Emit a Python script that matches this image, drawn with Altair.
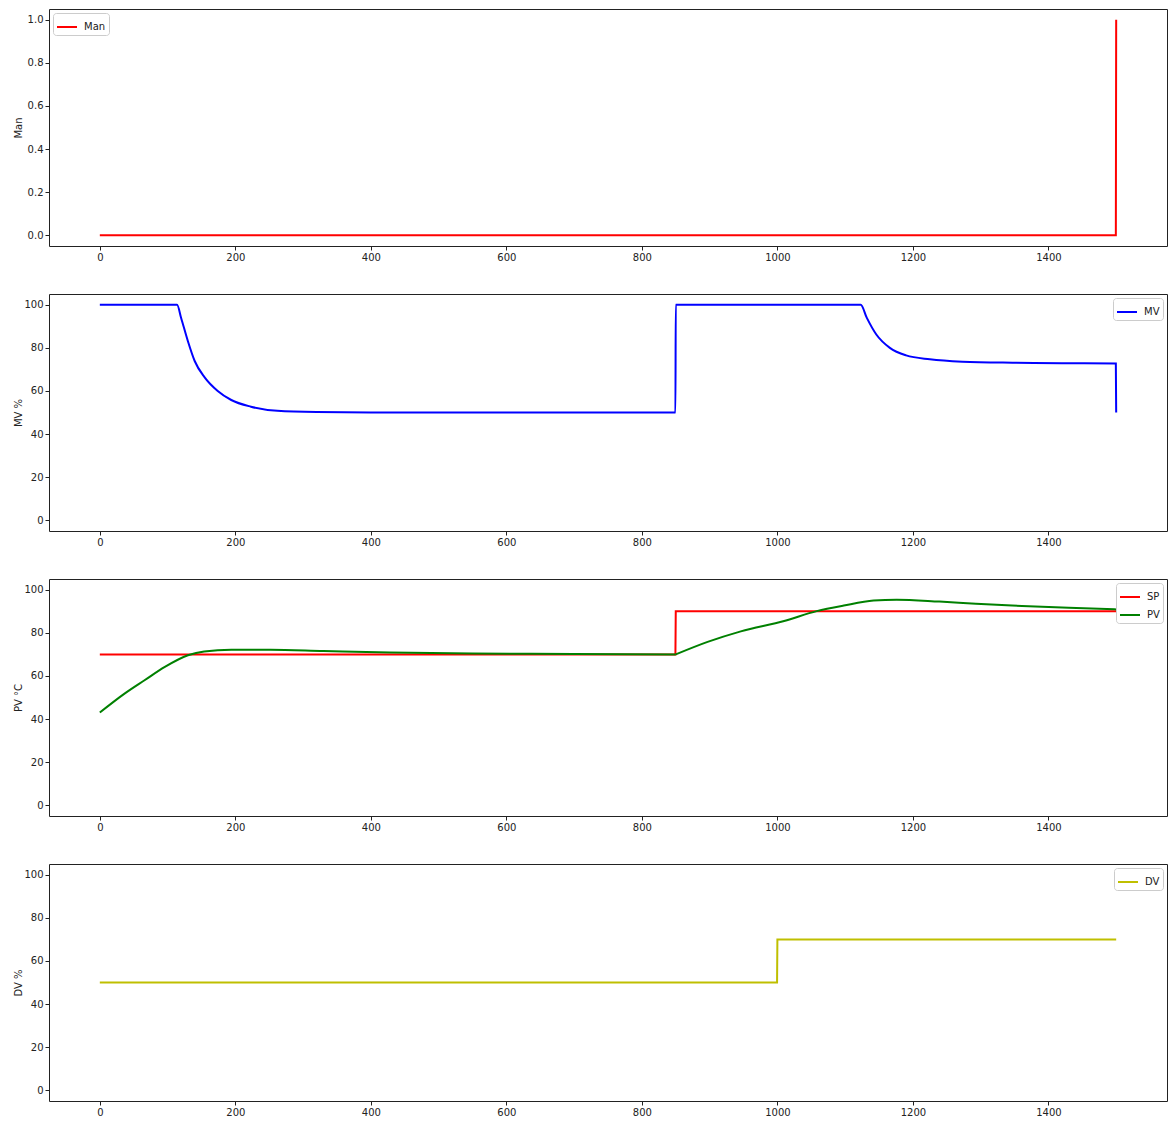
import altair as alt
import pandas as pd

# ---- data ----
t_man = [0, 1499.5, 1500]
man = [0, 0, 1]

t_mv = [0, 114, 120, 130, 140, 155, 174, 194, 223, 262, 320, 400, 849.5, 850,
        1123, 1132, 1146, 1166, 1190, 1225, 1273, 1347, 1420, 1499.5, 1500]
mv = [100, 100, 93.9, 83.1, 73.9, 66.2, 60.0, 55.8, 52.7, 50.8, 50.2, 50.0, 50.0, 100,
      100, 93.9, 86.2, 80.0, 76.5, 74.7, 73.6, 73.1, 72.9, 72.7, 50]

t_sp = [0, 849.5, 850, 1500]
sp = [70, 70, 90, 90]

# PV before and after the set-point step at t=850
t_pv_a = [0, 37, 66, 96, 130, 154, 194, 252, 330, 428, 550, 700, 850]
pv_a = [43.0, 51.9, 58.0, 64.2, 69.6, 71.4, 72.2, 72.2, 71.6, 70.9, 70.4, 70.2, 70.0]
t_pv_b = [850, 897, 946, 1010, 1058, 1098, 1142, 1176, 1239, 1293, 1361, 1430, 1500]
pv_b = [70.0, 75.8, 80.7, 85.5, 90.1, 92.7, 95.0, 95.4, 94.5, 93.5, 92.5, 91.6, 90.9]

t_dv = [0, 999.5, 1000, 1500]
dv = [50, 50, 70, 70]

x_ticks = [0, 200, 400, 600, 800, 1000, 1200, 1400]
y_ticks_man = [0.0, 0.2, 0.4, 0.6, 0.8, 1.0]
y_ticks_pct = [0, 20, 40, 60, 80, 100]


def frame(ts, vs, name, seg=0):
    return pd.DataFrame({"t": ts, "v": vs, "series": name, "seg": f"{name}{seg}",
                         "i": list(range(len(ts)))})


W, H = 1118, 237

x_enc = alt.X("t:Q", scale=alt.Scale(domain=[-75, 1575], nice=False, zero=False),
              axis=alt.Axis(values=x_ticks, title=None, format="d"))


def line(df, names, colors, ytitle, ydom, yticks, yfmt, legend_orient, interp):
    return alt.Chart(df).mark_line(strokeWidth=2, clip=True, interpolate=interp).encode(
        x=x_enc,
        y=alt.Y("v:Q", scale=alt.Scale(domain=ydom, nice=False, zero=False),
                axis=alt.Axis(values=yticks, title=ytitle, format=yfmt)),
        color=alt.Color("series:N", scale=alt.Scale(domain=names, range=colors),
                        legend=alt.Legend(title=None, orient=legend_orient)),
        detail="seg:N",
        order="i:Q",
    ).properties(width=W, height=H)


p1 = line(frame(t_man, man, "Man"), ["Man"], ["#ff0000"], "Man",
          [-0.05, 1.05], y_ticks_man, ".1f", "top-left", "linear")
p2 = line(frame(t_mv, mv, "MV"), ["MV"], ["#0000ff"], "MV %",
          [-5, 105], y_ticks_pct, "d", "top-right", "monotone")
p3 = alt.layer(
    line(frame(t_sp, sp, "SP"), ["SP", "PV"], ["#ff0000", "#008000"], "PV °C",
         [-5, 105], y_ticks_pct, "d", "top-right", "linear"),
    line(pd.concat([frame(t_pv_a, pv_a, "PV", 0), frame(t_pv_b, pv_b, "PV", 1)]),
         ["SP", "PV"], ["#ff0000", "#008000"], "PV °C",
         [-5, 105], y_ticks_pct, "d", "top-right", "monotone"),
).properties(width=W, height=H)
p4 = line(frame(t_dv, dv, "DV"), ["DV"], ["#bfbf00"], "DV %",
          [-5, 105], y_ticks_pct, "d", "top-right", "linear")

chart = alt.vconcat(p1, p2, p3, p4, spacing=48, bounds="flush").resolve_scale(
    color="independent"
).properties(
    padding={"left": 4, "top": 0, "right": 0, "bottom": 0}
).configure_view(
    stroke="#222", strokeWidth=1
).configure_axis(
    domain=False, grid=False, tickColor="#222", tickSize=4, labelPadding=2,
    labelFont="DejaVu Sans", labelFontSize=10, labelColor="#222",
    titleFont="DejaVu Sans", titleFontSize=10, titleFontWeight="normal", titleColor="#222",
).configure_axisY(
    minExtent=22, maxExtent=22, titlePadding=4,
).configure_legend(
    labelFont="DejaVu Sans", labelFontSize=10, labelColor="#222",
    symbolType="stroke", symbolStrokeWidth=2, symbolSize=400,
    strokeColor="#cccccc", fillColor="white", cornerRadius=3, padding=3,
    offset=4, labelOffset=6, rowPadding=2,
)

chart.save("out.html", embed_options={"renderer": "svg", "actions": False})
